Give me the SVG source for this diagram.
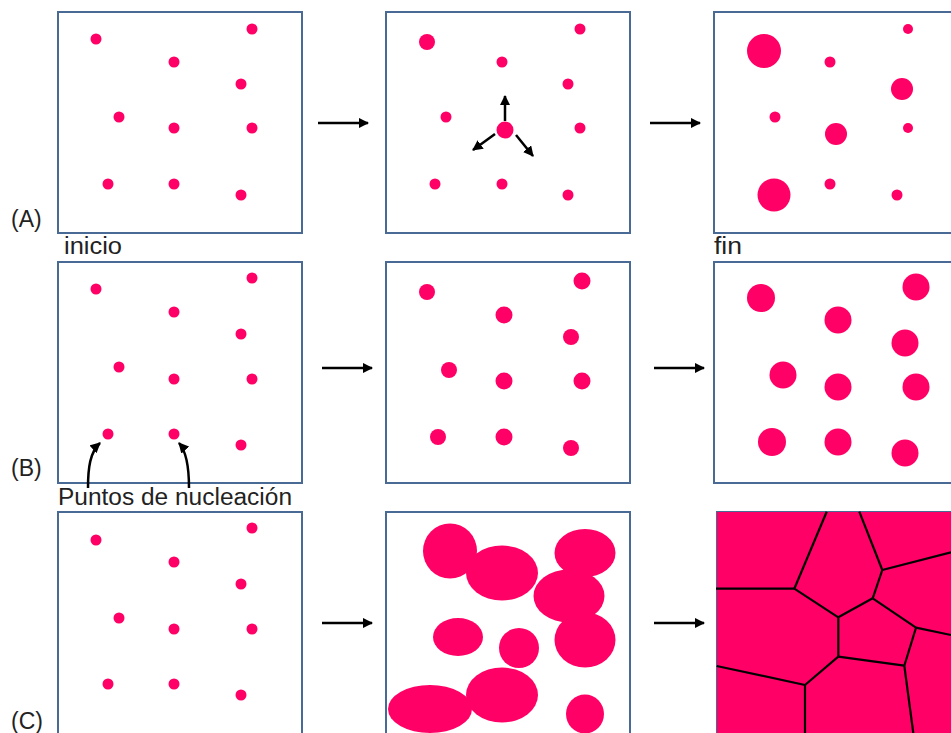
<svg xmlns="http://www.w3.org/2000/svg" width="951" height="733" viewBox="0 0 951 733">
<style>
.frame{fill:#fff;stroke:#4a6a96;stroke-width:2}
.d{fill:#ff0066}
.lbl{font-family:"Liberation Sans",Arial,sans-serif;font-size:23px;fill:#222}
.arr{stroke:#000;stroke-width:2.5;fill:none}
.gb{stroke:#000;stroke-width:2.2;fill:none}
</style>
<defs>
<marker id="ah" viewBox="0 0 10 10" refX="9" refY="5" markerWidth="4.2" markerHeight="4.2" orient="auto" markerUnits="strokeWidth">
<path d="M0,0 L10,5 L0,10 z" fill="#000"/>
</marker>
</defs>

<g id="labels">
<text class="lbl" x="11" y="227">(A)</text>
<text class="lbl" x="64" y="254" textLength="58" lengthAdjust="spacingAndGlyphs">inicio</text>
<text class="lbl" x="714" y="254" textLength="28" lengthAdjust="spacingAndGlyphs">fin</text>
<text class="lbl" x="11" y="476">(B)</text>
<text class="lbl" x="58" y="505" textLength="234" lengthAdjust="spacingAndGlyphs">Puntos de nucleación</text>
<text class="lbl" x="11" y="729">(C)</text>
</g>

<g id="A1">
<rect class="frame" x="58" y="12" width="244" height="221"/>
<circle class="d" cx="96" cy="39" r="5.5"/><circle class="d" cx="174" cy="62" r="5.5"/><circle class="d" cx="252" cy="29" r="5.5"/>
<circle class="d" cx="241" cy="84" r="5.5"/><circle class="d" cx="119" cy="117" r="5.5"/><circle class="d" cx="174" cy="128" r="5.5"/>
<circle class="d" cx="252" cy="128" r="5.5"/><circle class="d" cx="108" cy="184" r="5.5"/><circle class="d" cx="174" cy="184" r="5.5"/>
<circle class="d" cx="241" cy="195" r="5.5"/>
</g>

<g id="A2">
<rect class="frame" x="386" y="12" width="244" height="221"/>
<circle class="d" cx="427" cy="42" r="8"/><circle class="d" cx="502" cy="62" r="5.5"/><circle class="d" cx="580" cy="29" r="5.5"/>
<circle class="d" cx="568" cy="84" r="5.5"/><circle class="d" cx="446" cy="117" r="5.5"/><circle class="d" cx="505" cy="130" r="8.5"/>
<circle class="d" cx="580" cy="128" r="5.5"/><circle class="d" cx="435" cy="184" r="5.5"/><circle class="d" cx="502" cy="184" r="5.5"/>
<circle class="d" cx="568" cy="195" r="5.5"/>
<line class="arr" x1="505" y1="121" x2="505" y2="96" marker-end="url(#ah)"/>
<line class="arr" x1="495" y1="134" x2="473" y2="150" marker-end="url(#ah)"/>
<line class="arr" x1="516" y1="135" x2="533" y2="156" marker-end="url(#ah)"/>
</g>

<g id="A3">
<rect class="frame" x="714" y="12" width="250" height="221"/>
<circle class="d" cx="764" cy="51" r="17"/><circle class="d" cx="830" cy="62" r="5.5"/><circle class="d" cx="908" cy="29" r="5"/>
<circle class="d" cx="902" cy="89" r="11"/><circle class="d" cx="775" cy="117" r="5.5"/><circle class="d" cx="836" cy="134" r="11"/>
<circle class="d" cx="908" cy="128" r="5"/><circle class="d" cx="774" cy="195" r="16.5"/><circle class="d" cx="830" cy="184" r="5.5"/>
<circle class="d" cx="897" cy="195" r="5.5"/>
</g>

<g id="B1">
<rect class="frame" x="58" y="262" width="244" height="221"/>
<circle class="d" cx="96" cy="289" r="5.5"/><circle class="d" cx="174" cy="312" r="5.5"/><circle class="d" cx="252" cy="278" r="5.5"/>
<circle class="d" cx="241" cy="334" r="5.5"/><circle class="d" cx="119" cy="367" r="5.5"/><circle class="d" cx="174" cy="379" r="5.5"/>
<circle class="d" cx="252" cy="379" r="5.5"/><circle class="d" cx="108" cy="434" r="5.5"/><circle class="d" cx="174" cy="434" r="5.5"/>
<circle class="d" cx="241" cy="445" r="5.5"/>
</g>

<g id="B2">
<rect class="frame" x="386" y="262" width="244" height="221"/>
<circle class="d" cx="427" cy="292" r="8"/><circle class="d" cx="504" cy="315" r="8.5"/><circle class="d" cx="582" cy="281" r="8.5"/>
<circle class="d" cx="571" cy="337" r="8"/><circle class="d" cx="449" cy="370" r="8"/><circle class="d" cx="504" cy="381" r="8.5"/>
<circle class="d" cx="582" cy="381" r="8.5"/><circle class="d" cx="438" cy="437" r="8"/><circle class="d" cx="504" cy="437" r="8.5"/>
<circle class="d" cx="571" cy="448" r="8"/>
</g>

<g id="B3">
<rect class="frame" x="714" y="262" width="250" height="221"/>
<circle class="d" cx="761" cy="298" r="14"/><circle class="d" cx="838" cy="320" r="13.5"/><circle class="d" cx="916" cy="287" r="13.5"/>
<circle class="d" cx="905" cy="343" r="13.5"/><circle class="d" cx="783" cy="375" r="13.5"/><circle class="d" cx="838" cy="387" r="13.5"/>
<circle class="d" cx="916" cy="387" r="13.5"/><circle class="d" cx="772" cy="442" r="14"/><circle class="d" cx="838" cy="442" r="13.5"/>
<circle class="d" cx="905" cy="453" r="13.5"/>
</g>

<g id="C1">
<rect class="frame" x="58" y="512" width="244" height="240"/>
<circle class="d" cx="96" cy="540" r="5.5"/><circle class="d" cx="174" cy="562" r="5.5"/><circle class="d" cx="252" cy="528" r="5.5"/>
<circle class="d" cx="241" cy="584" r="5.5"/><circle class="d" cx="119" cy="618" r="5.5"/><circle class="d" cx="174" cy="629" r="5.5"/>
<circle class="d" cx="252" cy="629" r="5.5"/><circle class="d" cx="108" cy="684" r="5.5"/><circle class="d" cx="174" cy="684" r="5.5"/>
<circle class="d" cx="241" cy="695" r="5.5"/>
</g>

<g id="C2">
<rect class="frame" x="386" y="512" width="244" height="240"/>
<ellipse class="d" cx="502" cy="573" rx="36" ry="27.5"/>
<ellipse class="d" cx="450" cy="551" rx="27" ry="27.5"/>
<ellipse class="d" cx="585" cy="553" rx="30.5" ry="24"/>
<ellipse class="d" cx="569" cy="596" rx="35.5" ry="26.5"/>
<ellipse class="d" cx="458" cy="637" rx="25" ry="19"/>
<ellipse class="d" cx="519" cy="648" rx="20" ry="20"/>
<ellipse class="d" cx="585" cy="640" rx="30.5" ry="27.5"/>
<ellipse class="d" cx="430" cy="709" rx="42" ry="24"/>
<ellipse class="d" cx="502" cy="695" rx="36" ry="27.5"/>
<ellipse class="d" cx="585" cy="714" rx="19" ry="19.5"/>
</g>

<g id="C3">
<rect x="716.5" y="511.5" width="250" height="240" fill="#ff0066" stroke="#4a6a96" stroke-width="1"/>
<g class="gb">
<line x1="716" y1="588.7" x2="794.3" y2="588.7"/>
<line x1="794.3" y1="588.7" x2="826.7" y2="511.7"/>
<line x1="794.3" y1="588.7" x2="838.3" y2="617.3"/>
<line x1="838.3" y1="617.3" x2="872.7" y2="598.3"/>
<line x1="872.7" y1="598.3" x2="882.3" y2="570"/>
<line x1="882.3" y1="570" x2="859.3" y2="511.7"/>
<line x1="882.3" y1="570" x2="951" y2="552.3"/>
<line x1="872.7" y1="598.3" x2="916" y2="627.7"/>
<line x1="916" y1="627.7" x2="951" y2="635"/>
<line x1="916" y1="627.7" x2="904.3" y2="665.7"/>
<line x1="904.3" y1="665.7" x2="913.3" y2="733"/>
<line x1="904.3" y1="665.7" x2="838.3" y2="656.7"/>
<line x1="838.3" y1="656.7" x2="838.3" y2="617.3"/>
<line x1="838.3" y1="656.7" x2="805" y2="685"/>
<line x1="805" y1="685" x2="716.7" y2="666"/>
<line x1="805" y1="685" x2="805" y2="733"/>
</g>
</g>

<g id="connectors">
<line class="arr" x1="318" y1="123" x2="368" y2="123" marker-end="url(#ah)"/>
<line class="arr" x1="650" y1="123" x2="700" y2="123" marker-end="url(#ah)"/>
<line class="arr" x1="322" y1="368" x2="372" y2="368" marker-end="url(#ah)"/>
<line class="arr" x1="654" y1="368" x2="704" y2="368" marker-end="url(#ah)"/>
<line class="arr" x1="322" y1="623" x2="372" y2="623" marker-end="url(#ah)"/>
<line class="arr" x1="654" y1="623" x2="704" y2="623" marker-end="url(#ah)"/>
<path class="arr" d="M88,488 C88,468 90,452 100,443" marker-end="url(#ah)"/>
<path class="arr" d="M189,488 C189,468 187,452 179,443" marker-end="url(#ah)"/>
</g>
</svg>
